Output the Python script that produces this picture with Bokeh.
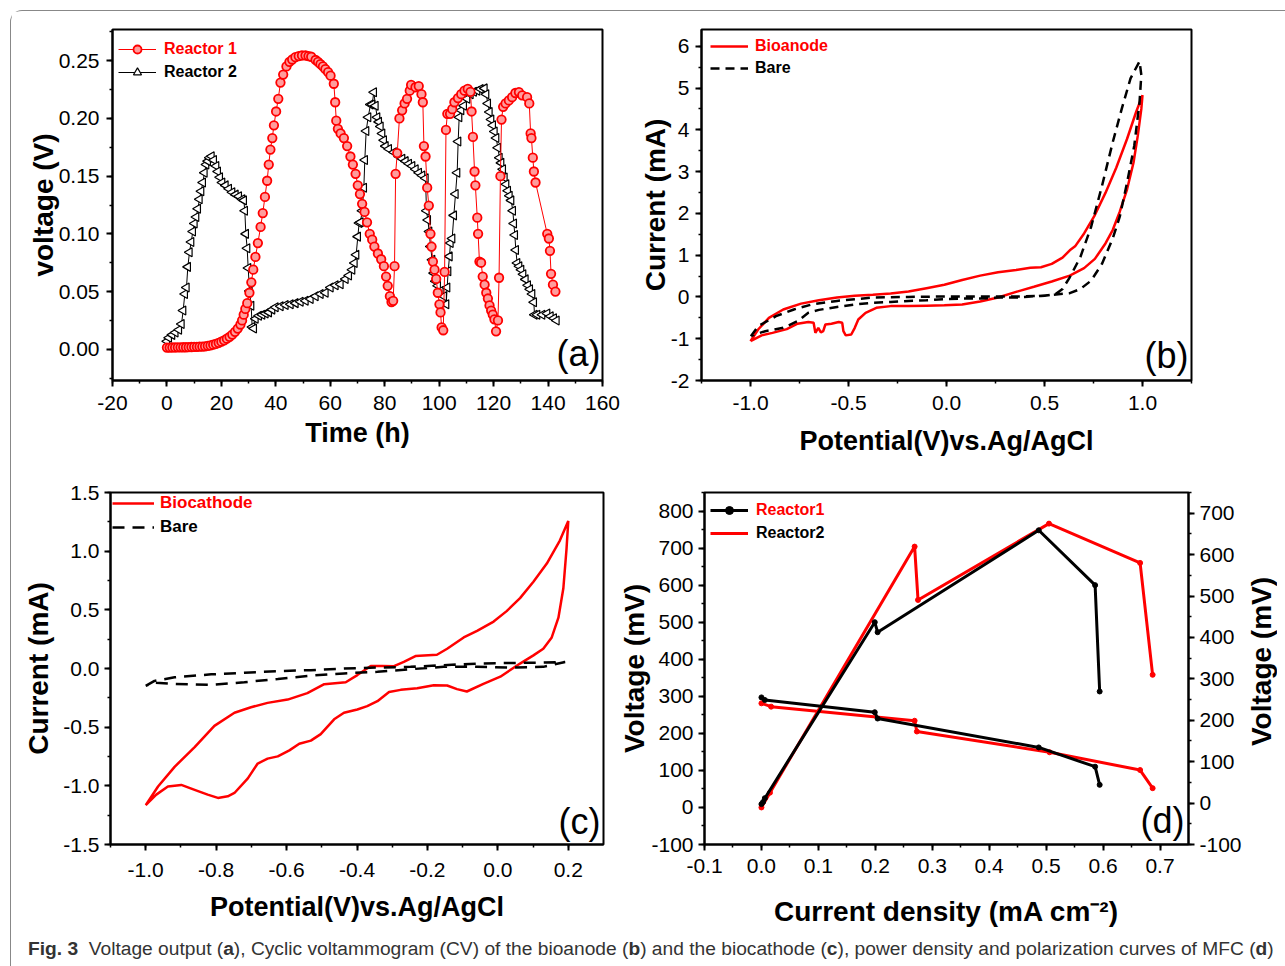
import math
from bokeh.plotting import figure
from bokeh.models import (Range1d, LinearAxis, Legend, LegendItem, Label,
                          SingleIntervalTicker, NumeralTickFormatter, Div)
from bokeh.layouts import row, column
from bokeh.embed import file_html
from bokeh.resources import INLINE

# ---------------- data: panel (a) voltage output ----------------
r1_time = [0, 1, 2, 3, 4, 5, 6, 7, 8, 9, 10, 11, 12, 13, 14, 15, 16, 17, 18, 19, 20, 21, 22, 23, 24, 25, 26, 27,
           27.6, 28.2, 28.8, 29.5, 30.3, 31.0, 31.7, 32.5, 33.4, 34.4, 35.2, 36.0, 36.8, 37.4, 38.0, 38.7, 39.3,
           40.1, 40.9, 41.7, 42.7, 43.9, 45.0, 46.0, 47.2, 48.4, 49.6, 50.9, 52.0, 53.0, 54.6, 55.5, 56.4, 57.3,
           58.2, 59.2, 60.1, 61.3, 61.8, 62.2, 62.8, 63.8, 65.0, 66.2, 67.4, 68.3, 69.3, 70.1, 70.9, 71.7, 72.6,
           73.5, 74.5, 75.4, 76.2, 77.5, 78.7, 79.7, 80.5, 81.1, 81.9, 82.5, 83.1, 83.6, 84.0, 84.6, 85.4, 86.4,
           87.3, 88.2, 89.2, 89.7, 91.3, 92.5, 93.5, 94.0, 94.4, 95.0, 95.6, 96.2, 96.8, 97.2, 97.7, 98.3, 98.9,
           99.5, 100.1, 100.5, 100.9, 101.5, 102.0, 102.5, 103.0, 104.0, 104.8, 105.6, 106.9, 108.1, 109.3, 110.5,
           111.5, 111.9, 112.4, 113.0, 113.3, 114.0, 114.3, 114.8, 115.4, 116.0, 116.7, 117.3, 117.9, 118.5, 119.1,
           119.7, 120.3, 120.9, 121.6, 122.0, 122.5, 122.9, 123.5, 124.4, 125.6, 126.8, 128.0, 129.3, 130.5, 132.3,
           133.1, 133.6, 133.9, 134.4, 134.8, 135.4, 139.7, 140.3, 140.7, 141.1, 141.8, 142.7]
r1_volt = [0.0015, 0.0015, 0.0016, 0.0016, 0.0017, 0.0017, 0.0018, 0.0018, 0.0019, 0.0020, 0.0021, 0.0022, 0.0023,
           0.0024, 0.0026, 0.0030, 0.0034, 0.0040, 0.0047, 0.0056, 0.0066, 0.0078, 0.0092, 0.0108, 0.0128, 0.0152,
           0.018, 0.0215, 0.025, 0.030, 0.035, 0.040, 0.049, 0.058, 0.069, 0.080, 0.092, 0.106, 0.118, 0.132, 0.146,
           0.160, 0.173, 0.183, 0.194, 0.206, 0.217, 0.231, 0.238, 0.245, 0.249, 0.251, 0.253, 0.254, 0.2545, 0.2545,
           0.254, 0.2534, 0.2506, 0.249, 0.247, 0.245, 0.2426, 0.240, 0.237, 0.230, 0.214, 0.198, 0.191, 0.187,
           0.183, 0.176, 0.167, 0.160, 0.152, 0.142, 0.1345, 0.126, 0.119, 0.110, 0.100, 0.095, 0.089, 0.083, 0.078,
           0.072, 0.063, 0.055, 0.046, 0.041, 0.042, 0.072, 0.152, 0.170, 0.200, 0.207, 0.213, 0.217, 0.224, 0.229,
           0.227, 0.228, 0.221, 0.214, 0.176, 0.167, 0.140, 0.1245, 0.100, 0.089, 0.076, 0.069, 0.061, 0.049, 0.039,
           0.032, 0.019, 0.0165, 0.067, 0.190, 0.204, 0.204, 0.208, 0.214, 0.2176, 0.221, 0.224, 0.2255, 0.223,
           0.206, 0.184, 0.154, 0.142, 0.114, 0.100, 0.076, 0.075, 0.063, 0.056, 0.049, 0.044, 0.038, 0.0336, 0.030,
           0.026, 0.0156, 0.025, 0.062, 0.150, 0.199, 0.210, 0.213, 0.2156, 0.2184, 0.222, 0.2227, 0.220, 0.2184,
           0.213, 0.187, 0.183, 0.166, 0.154, 0.1445, 0.100, 0.096, 0.0853, 0.0654, 0.056, 0.050]

r2_time = [0.0, 0.7, 1.9, 3.1, 4.4, 5.35, 5.96, 6.57, 7.18, 7.67, 8.28, 8.90, 9.51, 10.12, 10.73, 11.35, 11.96, 12.57,
           13.18, 13.79, 14.41, 15.02, 15.63, 16.37, 17.22, 18.08, 18.69, 19.43, 20.28, 21.51, 22.73, 23.96, 25.18,
           26.41, 27.63, 28.24, 28.61, 28.98, 29.47, 29.84, 30.33, 30.94, 31.31, 31.92, 32.53, 33.75, 34.98, 36.20,
           37.43, 38.65, 39.88, 41.71, 43.55, 45.39, 47.22, 49.06, 50.90, 52.73, 54.57, 56.41, 58.24, 60.08, 61.92,
           63.75, 65.59, 66.82, 68.04, 68.90, 69.51, 70.12, 70.61, 71.10, 71.71, 72.33, 72.69, 73.18, 73.92, 74.77,
           75.39, 76.0, 76.61, 77.22, 77.84, 78.45, 79.06, 79.67, 80.29, 81.51, 83.35, 85.18, 86.41, 87.63, 88.86,
           90.08, 91.31, 92.53, 93.75, 94.98, 95.35, 95.84, 96.33, 96.82, 97.43, 98.04, 98.65, 99.51, 100.49, 101.71,
           102.57, 102.94, 103.31, 103.80, 104.16, 104.78, 105.39, 106.0, 106.61, 106.98, 107.35, 108.08, 109.06,
           110.29, 111.51, 112.73, 113.96, 115.18, 116.65, 117.26, 117.88, 118.49, 119.10, 119.71, 120.33, 120.94,
           121.55, 122.16, 122.78, 123.39, 124.0, 124.61, 125.23, 125.84, 126.45, 127.06, 127.43, 127.80, 128.16,
           128.65, 129.39, 130.12, 130.86, 131.71, 132.57, 133.31, 134.16, 134.78, 135.02, 136.0, 137.84, 139.67,
           140.9, 142.12, 143.1]
r2_volt = [0.007, 0.010, 0.0125, 0.0145, 0.017, 0.022, 0.0336, 0.048, 0.0535, 0.0714, 0.084, 0.093, 0.102, 0.109,
           0.1146, 0.1217, 0.130, 0.137, 0.1445, 0.153, 0.160, 0.163, 0.166, 0.1672, 0.164, 0.1587, 0.154, 0.149,
           0.1445, 0.142, 0.139, 0.136, 0.134, 0.1325, 0.130, 0.129, 0.120, 0.100, 0.0876, 0.0705, 0.0506, 0.0378,
           0.0193, 0.018, 0.0265, 0.029, 0.030, 0.031, 0.032, 0.0344, 0.0364, 0.0373, 0.0384, 0.039, 0.040, 0.0412,
           0.042, 0.0435, 0.046, 0.048, 0.049, 0.0535, 0.0555, 0.0563, 0.061, 0.064, 0.069, 0.0748, 0.082, 0.0976,
           0.1095, 0.110, 0.120, 0.140, 0.164, 0.189, 0.201, 0.212, 0.212, 0.2227, 0.211, 0.201, 0.197, 0.193, 0.187,
           0.181, 0.176, 0.1735, 0.1707, 0.167, 0.165, 0.163, 0.1607, 0.1587, 0.156, 0.153, 0.1505, 0.1482, 0.120,
           0.112, 0.102, 0.089, 0.0776, 0.066, 0.059, 0.055, 0.0506, 0.046, 0.039, 0.0535, 0.0677, 0.0805, 0.092,
           0.096, 0.116, 0.1345, 0.153, 0.180, 0.201, 0.207, 0.211, 0.217, 0.221, 0.223, 0.224, 0.2255, 0.226, 0.221,
           0.213, 0.2056, 0.199, 0.194, 0.1886, 0.183, 0.1746, 0.166, 0.1615, 0.156, 0.1488, 0.143, 0.1374, 0.133,
           0.129, 0.120, 0.109, 0.099, 0.086, 0.0748, 0.072, 0.069, 0.065, 0.0606, 0.0555, 0.052, 0.048, 0.0407,
           0.030, 0.030, 0.030, 0.031, 0.0287, 0.027, 0.025]

# ---------------- data: panel (b) bioanode CV ----------------
bio_an_E = [-1.0, -0.961, -0.906, -0.833, -0.742, -0.651, -0.559, -0.468, -0.376, -0.285, -0.194, -0.102, -0.011,
            0.080, 0.172, 0.263, 0.355, 0.428, 0.482, 0.537, 0.592, 0.629, 0.656, 0.702, 0.757, 0.811, 0.866, 0.921,
            0.967, 1.0,
            0.994, 0.976, 0.954, 0.921, 0.884, 0.848, 0.811, 0.757, 0.702, 0.629, 0.537, 0.446, 0.355, 0.263, 0.172,
            0.080, -0.011, -0.102, -0.194, -0.285, -0.358, -0.413, -0.450, -0.468, -0.486, -0.514, -0.526, -0.532,
            -0.550, -0.587, -0.618, -0.629, -0.641, -0.654, -0.669, -0.678, -0.705, -0.760, -0.815, -0.888, -0.943,
            -1.0]
bio_an_I = [-1.06, -0.78, -0.50, -0.30, -0.16, -0.08, -0.015, 0.026, 0.05, 0.08, 0.13, 0.21, 0.29, 0.405, 0.51,
            0.59, 0.647, 0.696, 0.71, 0.79, 0.94, 1.115, 1.21, 1.52, 1.96, 2.49, 3.09, 3.78, 4.42, 4.83,
            4.5, 3.86, 3.21, 2.57, 2.04, 1.60, 1.28, 0.91, 0.69, 0.51, 0.37, 0.244, 0.12, -0.015, -0.11, -0.18, -0.20,
            -0.21, -0.22, -0.22, -0.26, -0.38, -0.54, -0.74, -0.90, -0.92, -0.82, -0.62, -0.60, -0.64, -0.66, -0.82,
            -0.85, -0.74, -0.86, -0.62, -0.60, -0.64, -0.77, -0.86, -0.92, -1.06]
bare_an_E = [-0.998, -0.961, -0.870, -0.779, -0.687, -0.559, -0.376, -0.194, -0.011, 0.172, 0.355, 0.501, 0.556,
             0.592, 0.629, 0.683, 0.738, 0.793, 0.848, 0.894, 0.939, 0.985,
             0.994, 0.985, 0.958, 0.921, 0.884, 0.848, 0.793, 0.738, 0.683, 0.629, 0.537, 0.446, 0.355, 0.263,
             0.172, 0.080, -0.011, -0.102, -0.194, -0.285, -0.376, -0.468, -0.559, -0.651, -0.705, -0.760, -0.833,
             -0.925, -0.980, -0.998]
bare_an_I = [-0.94, -0.70, -0.46, -0.30, -0.18, -0.095, -0.015, 0.0, 0.01, 0.01, 0.01, 0.026, 0.066, 0.19, 0.47,
             0.954, 1.68, 2.65, 3.70, 4.5, 5.23, 5.64,
             5.31, 4.67, 3.62, 2.73, 1.92, 1.40, 0.79, 0.39, 0.19, 0.09, 0.05, 0.01, -0.015, -0.015, -0.04, -0.04,
             -0.055, -0.08, -0.095, -0.12, -0.14, -0.18, -0.24, -0.31, -0.38, -0.58, -0.74, -0.82, -0.90, -0.94]

# ---------------- data: panel (c) biocathode CV ----------------
bio_cat_E = [-1.0, -0.965, -0.918, -0.861, -0.805, -0.748, -0.701, -0.654, -0.597, -0.541, -0.493, -0.432, -0.399,
             -0.361, -0.328, -0.295, -0.267, -0.234, -0.173, -0.144, -0.097, -0.059, -0.012, 0.025, 0.063, 0.101,
             0.139, 0.176, 0.2,
             0.195, 0.186, 0.172, 0.153, 0.129, 0.101, 0.063, 0.007, -0.041, -0.088, -0.116, -0.144, -0.182, -0.229,
             -0.276, -0.309, -0.342, -0.371, -0.399, -0.437, -0.465, -0.503, -0.531, -0.564, -0.592, -0.625, -0.654,
             -0.682, -0.710, -0.748, -0.767, -0.795, -0.824, -0.861, -0.899, -0.937, -0.970, -1.0]
bio_cat_I = [-1.165, -1.006, -0.838, -0.67, -0.489, -0.377, -0.33, -0.293, -0.265, -0.21, -0.134, -0.117, -0.056,
             0.022, 0.022, 0.02, 0.056, 0.106, 0.117, 0.168, 0.265, 0.321, 0.40, 0.489, 0.60, 0.74, 0.894, 1.09,
             1.257,
             1.02, 0.684, 0.433, 0.265, 0.168, 0.112, 0.042, -0.07, -0.131, -0.196, -0.176, -0.145, -0.142, -0.168,
             -0.182, -0.201, -0.279, -0.321, -0.349, -0.377, -0.433, -0.559, -0.615, -0.642, -0.698, -0.749, -0.768,
             -0.81, -0.936, -1.061, -1.089, -1.103, -1.075, -1.034, -0.992, -1.006, -1.075, -1.165]
bare_cat_E = [-1.0, -0.975, -0.918, -0.814, -0.720, -0.625, -0.531, -0.437, -0.342, -0.248, -0.154, -0.059, 0.035,
              0.129, 0.191,
              0.129, 0.035, -0.059, -0.154, -0.248, -0.342, -0.437, -0.531, -0.625, -0.720, -0.814, -0.918, -0.975,
              -1.0]
bare_cat_I = [-0.148, -0.106, -0.075, -0.05, -0.036, -0.022, -0.014, 0.0, 0.008, 0.014, 0.028, 0.042, 0.047, 0.05,
              0.056,
              0.014, 0.008, 0.014, 0.014, -0.006, -0.028, -0.042, -0.061, -0.089, -0.117, -0.14, -0.131, -0.12,
              -0.148]

# ---------------- data: panel (d) power density / polarization ----------------
d_r1_pow_j = [0.0, 0.003, 0.006, 0.199, 0.204, 0.487, 0.586, 0.594]
d_r1_pow_v = [9, 15, 25, 500, 473, 748, 600, 313]
d_r1_pol_j = [0.0, 0.006, 0.199, 0.204, 0.487, 0.586, 0.594]
d_r1_pol_v = [297, 290, 257, 240, 162, 110, 61]
d_r2_pow_j = [0.0, 0.015, 0.269, 0.275, 0.505, 0.665, 0.687]
d_r2_pow_v = [0, 40, 704, 560, 766, 660, 358]
d_r2_pol_j = [0.0, 0.017, 0.269, 0.273, 0.506, 0.665, 0.687]
d_r2_pol_v = [281, 272, 234, 205, 149, 101, 52]

CAPTION = ('<b>Fig. 3</b>&nbsp; Voltage output (<b>a</b>), Cyclic voltammogram (CV) of the bioanode (<b>b</b>) '
           'and the biocathode (<b>c</b>), power density and polarization curves of MFC (<b>d</b>)')

FONT = "Liberation Sans"


def style_axis(ax, fmt, interval, label_standoff, tick_standoff=4, label_size="28px"):
    ax.ticker = SingleIntervalTicker(interval=interval, num_minor_ticks=2)
    ax.formatter = NumeralTickFormatter(format=fmt)
    ax.axis_line_width = 2
    ax.axis_line_color = "black"
    ax.major_tick_line_width = 2
    ax.minor_tick_line_width = 1.5
    ax.major_tick_out = 6
    ax.major_tick_in = 0
    ax.minor_tick_out = 3
    ax.minor_tick_in = 0
    ax.major_label_text_font = FONT
    ax.major_label_text_font_size = "21px"
    ax.major_label_text_color = "black"
    ax.major_label_standoff = tick_standoff
    ax.axis_label_text_font = FONT
    ax.axis_label_text_font_size = label_size
    ax.axis_label_text_font_style = "bold"
    ax.axis_label_text_color = "black"
    ax.axis_label_standoff = label_standoff


def make_fig(w, h, bl, br, bt, bb, xr, yr):
    p = figure(width=w, height=h, min_border_left=bl, min_border_right=br,
               min_border_top=bt, min_border_bottom=bb,
               x_range=Range1d(*xr), y_range=Range1d(*yr),
               output_backend="svg", toolbar_location=None, tools="")
    p.grid.visible = False
    p.outline_line_color = "black"
    p.outline_line_width = 2
    p.outline_line_alpha = 1
    p.background_fill_color = "white"
    p.border_fill_color = "white"
    return p


def add_legend(p, renderers, text, color, vx, vy, gw=38, standoff=8, size="16px"):
    lg = Legend(items=[LegendItem(label=text, renderers=renderers)], location=(vx, vy),
                padding=0, margin=0, spacing=0, glyph_width=gw, glyph_height=20, label_height=20,
                label_standoff=standoff, border_line_alpha=0, background_fill_alpha=0,
                label_text_font=FONT, label_text_font_size=size, label_text_font_style="bold",
                label_text_color=color)
    p.add_layout(lg)


def panel_label(p, x, y, text):
    p.add_layout(Label(x=x, y=y, text=text, text_align="right", text_baseline="middle",
                       text_font=FONT, text_font_size="36px", text_color="black"))


# ---------------- panel (a) ----------------
pa = make_fig(619, 459, 101, 28, 18, 89, (-20, 160), (-0.027, 0.277))
pa.xaxis.axis_label = "Time (h)"
pa.yaxis.axis_label = "voltage (V)"
style_axis(pa.xaxis[0], "0", 20, 5, tick_standoff=9, label_size="27px")
style_axis(pa.yaxis[0], "0.00", 0.05, -3, tick_standoff=7)
l2 = pa.line(r2_time, r2_volt, line_color="black", line_width=1)
s2 = pa.scatter(r2_time, r2_volt, marker="triangle", angle=math.pi / 2, size=9,
                line_color="black", fill_color="white", line_width=1.2)
l1 = pa.line(r1_time, r1_volt, line_color="red", line_width=1)
s1 = pa.scatter(r1_time, r1_volt, marker="circle", size=8.5, line_color="red",
                fill_color="#ff9c9c", line_width=1.8)
add_legend(pa, [l1, s1], "Reactor 1", "red", 6, 321)
add_legend(pa, [l2, s2], "Reactor 2", "black", 6, 298)
panel_label(pa, 159.3, -0.0035, "(a)")

# ---------------- panel (b) ----------------
pb = make_fig(647, 459, 71, 86, 17, 90, (-1.25, 1.25), (-2, 6.4))
pb.xaxis.axis_label = "Potential(V)vs.Ag/AgCl"
pb.yaxis.axis_label = "Current (mA)"
style_axis(pb.xaxis[0], "0.0", 0.5, 13, tick_standoff=9, label_size="27px")
style_axis(pb.yaxis[0], "0", 1, -3, tick_standoff=6)
rb1 = pb.line(bio_an_E, bio_an_I, line_color="red", line_width=2.5)
rb2 = pb.line(bare_an_E, bare_an_I, line_color="black", line_width=2.5, line_dash="9 6")
add_legend(pb, [rb1], "Bioanode", "red", 9, 324, gw=38, standoff=7)
add_legend(pb, [rb2], "Bare", "black", 9, 302, gw=38, standoff=7)
panel_label(pb, 1.235, -1.40, "(b)")

# ---------------- panel (c) ----------------
pc = make_fig(604, 460, 99, 12, 19, 83, (-1.1, 0.3), (-1.5, 1.5))
pc.xaxis.axis_label = "Potential(V)vs.Ag/AgCl"
pc.yaxis.axis_label = "Current (mA)"
style_axis(pc.xaxis[0], "0.0", 0.2, 12, tick_standoff=12, label_size="27px")
style_axis(pc.yaxis[0], "0.0", 0.5, 6, tick_standoff=5)
rc1 = pc.line(bio_cat_E, bio_cat_I, line_color="red", line_width=2.5)
rc2 = pc.line(bare_cat_E, bare_cat_I, line_color="black", line_width=2.5, line_dash="12 8")
add_legend(pc, [rc1], "Biocathode", "red", 2, 331, gw=42, standoff=6, size="17px")
add_legend(pc, [rc2], "Bare", "black", 2, 307, gw=42, standoff=6, size="17px")
panel_label(pc, 0.2915, -1.30, "(c)")

# ---------------- panel (d) ----------------
pd_ = make_fig(629, 460, 89, 52, 22, 86, (-0.1, 0.75), (-100, 850))
pd_.extra_y_ranges = {"right": Range1d(-100, 750)}
right_ax = LinearAxis(y_range_name="right")
pd_.add_layout(right_ax, "right")
pd_.xaxis.axis_label = "Current density (mA cm\u207b\u00b2)"
pd_.yaxis[0].axis_label = "Voltage (mV)"
style_axis(pd_.xaxis[0], "0.0", 0.1, 20, tick_standoff=8, label_size="28px")
style_axis(pd_.yaxis[0], "0", 100, -2, tick_standoff=5)
style_axis(right_ax, "0", 100, -2, tick_standoff=5)
d2a = pd_.line(d_r2_pow_j, d_r2_pow_v, line_color="red", line_width=3)
pd_.scatter(d_r2_pow_j, d_r2_pow_v, marker="circle", size=5, color="red")
d2b = pd_.line(d_r2_pol_j, d_r2_pol_v, line_color="red", line_width=3)
pd_.scatter(d_r2_pol_j, d_r2_pol_v, marker="circle", size=5, color="red")
d1a = pd_.line(d_r1_pow_j, d_r1_pow_v, line_color="black", line_width=3)
d1s = pd_.scatter(d_r1_pow_j, d_r1_pow_v, marker="circle", size=5, color="black")
d1b = pd_.line(d_r1_pol_j, d_r1_pol_v, line_color="black", line_width=3)
pd_.scatter(d_r1_pol_j, d_r1_pol_v, marker="circle", size=5, color="black")
add_legend(pd_, [d1a, d1s], "Reactor1", "red", 6, 324, gw=38, standoff=8)
add_legend(pd_, [d2a], "Reactor2", "black", 6, 301, gw=38, standoff=8)
panel_label(pd_, 0.743, -35, "(d)")

# right-hand axis title of panel (d), reading bottom-to-top as in the original
pt = figure(width=33, height=460, x_range=Range1d(0, 1), y_range=Range1d(0, 1),
            x_axis_type=None, y_axis_type=None, min_border=0,
            output_backend="svg", toolbar_location=None, tools="")
pt.grid.visible = False
pt.outline_line_color = None
pt.add_layout(Label(x=0.5, y=0.52, text="Voltage (mV)", angle=math.pi / 2,
                    text_align="center", text_baseline="middle", text_font=FONT,
                    text_font_size="28px", text_font_style="bold", text_color="black"))

caption = Div(text=CAPTION, width=1266, height=26,
              styles={"font-family": "'Liberation Sans Narrow', 'Liberation Sans', sans-serif",
                      "font-size": "19.2px", "color": "#333", "padding-left": "12px",
                      "padding-top": "0px", "white-space": "nowrap"})

layout = column(row(pa, pb), row(pc, pd_, pt), caption,
                styles={"border-left": "1px solid #888", "border-top": "1px solid #888",
                        "border-top-left-radius": "12px", "margin-left": "10px", "margin-top": "10px"})

open("out.html", "w").write(file_html(layout, INLINE))
